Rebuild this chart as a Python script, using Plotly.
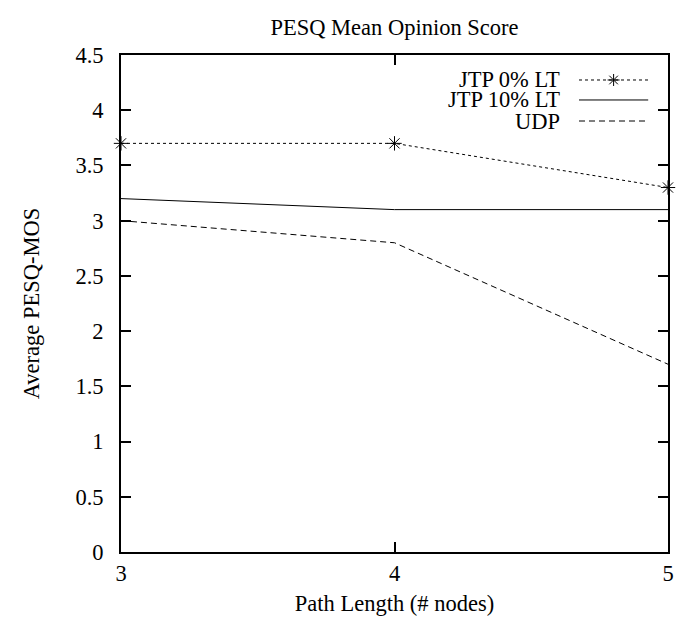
import plotly.graph_objects as go

# Path length (number of nodes)
path_length = [3, 4, 5]

# Average PESQ-MOS per protocol
jtp_0_lt = [3.7, 3.7, 3.3]
jtp_10_lt = [3.2, 3.1, 3.1]
udp = [3.0, 2.8, 1.7]

series_names = ["JTP 0% LT", "JTP 10% LT", "UDP"]
y_ticks = [0, 0.5, 1, 1.5, 2, 2.5, 3, 3.5, 4, 4.5]
y_tick_text = ["0", "0.5", "1", "1.5", "2", "2.5", "3", "3.5", "4", "4.5"]

FONT = "Liberation Serif"
FS = 22.5
styles = [
    dict(dash="3px,3px", marker=True),
    dict(dash="solid", marker=False),
    dict(dash="6px,4px", marker=False),
]
values = [jtp_0_lt, jtp_10_lt, udp]

fig = go.Figure()
for name, vals, st in zip(series_names, values, styles):
    fig.add_trace(go.Scatter(
        x=path_length, y=vals, name=name,
        mode="lines+markers" if st["marker"] else "lines",
        line=dict(color="black", width=1, dash=st["dash"]),
        marker=dict(symbol="asterisk-open", size=12, color="black",
                    line=dict(color="black", width=1)),
        cliponaxis=False, showlegend=False,
    ))

# Key: right-aligned labels with line samples to their right
key_rows = [0.9497, 0.9095, 0.8672]
kx0, kx1, ktext = 0.8373, 0.9638, 0.8065
star = "M-6,0L6,0M0,-6L0,6M-4.3,-4.3L4.3,4.3M-4.3,4.3L4.3,-4.3"
for name, st, ky in zip(series_names, styles, key_rows):
    fig.add_shape(type="line", xref="paper", yref="paper",
                  x0=kx0, x1=kx1, y0=ky, y1=ky,
                  line=dict(color="black", width=1, dash=st["dash"]))
    if st["marker"]:
        fig.add_shape(type="path", xref="paper", yref="paper",
                      xsizemode="pixel", ysizemode="pixel",
                      xanchor=(kx0 + kx1) / 2, yanchor=ky, path=star,
                      line=dict(color="black", width=1))
    fig.add_annotation(x=ktext, y=ky, xref="paper", yref="paper",
                       text=name, showarrow=False, xanchor="right",
                       yanchor="middle",
                       font=dict(family=FONT, size=FS, color="black"))

axis_common = dict(
    ticks="inside", ticklen=10, tickwidth=1.5, tickcolor="black",
    showline=True, linecolor="black", linewidth=1.5,
    mirror="ticks", showgrid=False, zeroline=False,
)

fig.update_layout(
    width=686, height=626,
    margin=dict(l=121, r=12, t=55, b=74),
    paper_bgcolor="white", plot_bgcolor="white",
    font=dict(family=FONT, size=FS, color="black"),
    title=dict(text="PESQ Mean Opinion Score", x=0.5, xref="paper",
               xanchor="center", y=1 - 27 / 626, yanchor="middle",
               font=dict(family=FONT, size=FS, color="black")),
    xaxis=dict(range=[3, 5], tickvals=path_length,
               ticktext=[str(v) for v in path_length],
               title=dict(text="Path Length (# nodes)", standoff=10,
                          font=dict(family=FONT, size=FS)),
               **axis_common),
    yaxis=dict(range=[0, 4.5], tickvals=y_ticks,
               ticktext=[t + "\u00a0\u00a0" for t in y_tick_text],
               title=dict(text="Average PESQ-MOS", standoff=30,
                          font=dict(family=FONT, size=FS)),
               **axis_common),
)

fig.write_html("out.html")
